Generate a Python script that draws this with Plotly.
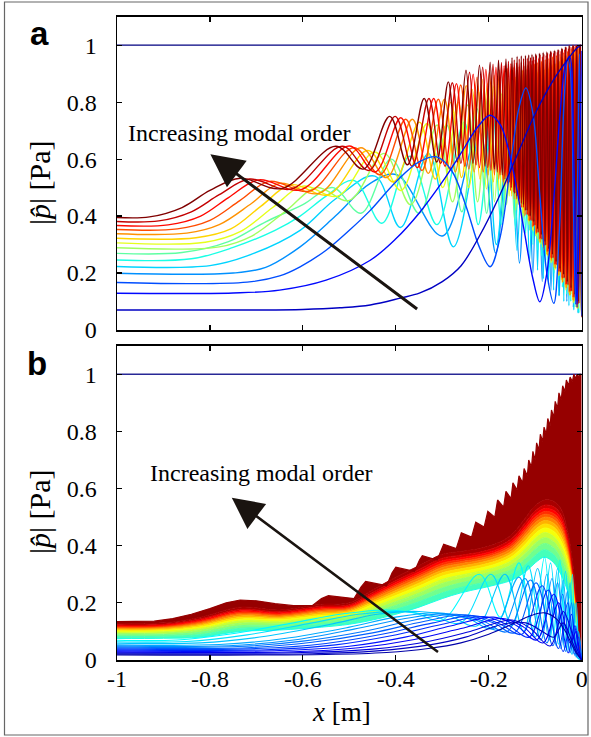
import plotly.graph_objects as go

W, H = 591, 737

# ---------------- axes / labels ----------------
x_ticks = [-1, -0.8, -0.6, -0.4, -0.2, 0]
x_tick_text = ["-1", "-0.8", "-0.6", "-0.4", "-0.2", "0"]
y_ticks = [0, 0.2, 0.4, 0.6, 0.8, 1]
y_tick_text = ["0", "0.2", "0.4", "0.6", "0.8", "1"]
label_a = "a"
label_b = "b"
y_title = "|<i>p̂</i>| [Pa]"
x_title = "<i>x</i> [m]"
text_arrow = "Increasing modal order"

# ---------------- panel a: |p| of each mode ((x, |p|) points) ----------------
flat_x = [-1, 0]
flat_y = [1, 1]

a01 = [(-1, .070), (-0.7, .070), (-0.6, .072), (-0.52, .078), (-0.455, .088), (-0.39, .112), (-0.348, .130),
       (-0.3, .170), (-0.26, .225), (-0.22, .33), (-0.18, .46), (-0.14, .61), (-0.1, .76), (-0.06, .88),
       (-0.03, .95), (-0.01, .99), (0, 1.0)]
a02 = [(-1, .129), (-0.75, .130), (-0.65, .140), (-0.55, .175), (-0.455, .245), (-0.40, .32), (-0.35, .41),
       (-0.30, .52), (-0.26, .62), (-0.225, .71), (-0.197, .754), (-0.175, .72), (-0.15, .58), (-0.125, .36),
       (-0.105, .18), (-0.09, .099), (-0.075, .20), (-0.06, .46), (-0.047, .75), (-0.035, .93), (-0.026, .96),
       (-0.017, .60), (-0.01, .08), (-0.005, .50), (0, .98)]
a03 = [(-1, .167), (-0.72, .168), (-0.65, .19), (-0.606, .222), (-0.55, .28), (-0.50, .35), (-0.455, .42),
       (-0.40, .52), (-0.35, .59), (-0.312, .608), (-0.28, .56), (-0.25, .44), (-0.22, .29), (-0.197, .222),
       (-0.175, .33), (-0.15, .62), (-0.135, .78), (-0.12, .85), (-0.105, .76), (-0.09, .47), (-0.075, .20),
       (-0.06, .094), (-0.048, .35), (-0.038, .80), (-0.03, .95), (-0.024, .90), (-0.018, .45), (-0.013, .09),
       (-0.009, .50), (-0.005, .97), (0, .05)]
a04 = [(-1, .199), (-0.75, .20), (-0.68, .22), (-0.606, .292), (-0.53, .40), (-0.455, .515), (-0.398, .545),
       (-0.30, .33), (-0.222, .70), (-0.185, .27), (-0.154, .78), (-0.134, .235), (-0.118, .82), (-0.105, .20),
       (-0.095, .84), (-0.085, .17), (-0.076, .86), (-0.066, .14), (-0.057, .88), (-0.048, .12), (-0.04, .90),
       (-0.032, .10), (-0.025, .93), (-0.018, .08), (-0.012, .95), (-0.007, .06), (-0.003, .97), (0, .05)]
a05 = [(-1, .223), (-0.80, .226), (-0.72, .26), (-0.606, .35), (-0.53, .46), (-0.445, .54), (-0.39, .36),
       (-0.33, .62), (-0.276, .292), (-0.211, .74), (-0.1835, .30), (-0.1555, .79), (-0.1393, .28), (-0.123, .82),
       (-0.1124, .24), (-0.1017, .84), (-0.095, .21), (-0.088, .85), (-0.0825, .18), (-0.077, .86),
       (-0.0715, .16), (-0.066, .87), (-0.0605, .14), (-0.055, .885), (-0.0495, .12), (-0.044, .90),
       (-0.0385, .10), (-0.033, .92), (-0.0275, .085), (-0.022, .94), (-0.017, .07), (-0.012, .96),
       (-0.008, .06), (-0.004, .97), (0, .05)]
a06 = [(-1, .246), (-0.84, .25), (-0.75, .29), (-0.66, .35), (-0.606, .40), (-0.55, .47), (-0.49, .525),
       (-0.43, .375), (-0.37, .61), (-0.3115, .37), (-0.253, .73), (-0.2226, .37), (-0.1922, .77), (-0.1736, .37),
       (-0.155, .795), (-0.1424, .36), (-0.1298, .81), (-0.1207, .34), (-0.1117, .825), (-0.1048, .30),
       (-0.098, .83), (-0.0945, .28), (-0.091, .835), (-0.0865, .26), (-0.082, .84), (-0.0775, .245),
       (-0.073, .85), (-0.0685, .22), (-0.064, .86), (-0.0595, .20), (-0.055, .875), (-0.0505, .175),
       (-0.046, .89), (-0.0415, .15), (-0.037, .91), (-0.0325, .125), (-0.028, .93), (-0.0235, .10),
       (-0.019, .95), (-0.0145, .08), (-0.01, .97), (-0.006, .06), (-0.003, .98), (0, .05)]
a07 = [(-1, .269), (-0.86, .272), (-0.76, .31), (-0.68, .38), (-0.60, .44), (-0.535, .50), (-0.475, .41),
       (-0.41, .60), (-0.35, .41), (-0.2908, .72), (-0.258, .415), (-0.2253, .777), (-0.2046, .41),
       (-0.1839, .805), (-0.1696, .40), (-0.1553, .814), (-0.1449, .39), (-0.1344, .83), (-0.1265, .37),
       (-0.1185, .835), (-0.1122, .35), (-0.1059, .838), (-0.099, .33), (-0.092, .84), (-0.088, .30),
       (-0.084, .845), (-0.080, .275), (-0.076, .85), (-0.072, .255), (-0.068, .855), (-0.064, .235),
       (-0.060, .86), (-0.056, .215), (-0.052, .87), (-0.048, .19), (-0.044, .88), (-0.040, .17),
       (-0.036, .895), (-0.032, .15), (-0.028, .91), (-0.024, .125), (-0.020, .93), (-0.016, .10),
       (-0.012, .95), (-0.008, .075), (-0.004, .965), (0, .05)]
a08 = [(-1, .289), (-0.78, .292), (-0.71, .33), (-0.635, .42), (-0.57, .50), (-0.50, .455), (-0.425, .62),
       (-0.368, .44), (-0.311, .72), (-0.278, .45), (-0.2455, .79), (-0.224, .45), (-0.2027, .815),
       (-0.1876, .45), (-0.1726, .83), (-0.1615, .44), (-0.1503, .836), (-0.1417, .42), (-0.1331, .84),
       (-0.1262, .395), (-0.1194, .845), (-0.1138, .37), (-0.1083, .85), (-0.1037, .345), (-0.0991, .852),
       (-0.0955, .32), (-0.0915, .855), (-0.0875, .30), (-0.0835, .86), (-0.0795, .28), (-0.0755, .865),
       (-0.0715, .26), (-0.0675, .87), (-0.0635, .24), (-0.0595, .88), (-0.0555, .215), (-0.0515, .89),
       (-0.0475, .195), (-0.0435, .90), (-0.0395, .17), (-0.0355, .915), (-0.0315, .15), (-0.0275, .93),
       (-0.0235, .125), (-0.0195, .95), (-0.0155, .10), (-0.0115, .965), (-0.0075, .075), (-0.0035, .98),
       (0, .05)]
a09 = [(-1, .306), (-0.81, .308), (-0.735, .345), (-0.665, .43), (-0.60, .505), (-0.525, .47), (-0.445, .625),
       (-0.389, .49), (-0.3326, .725), (-0.299, .50), (-0.2655, .80), (-0.2432, .50), (-0.2209, .835),
       (-0.205, .495), (-0.1891, .855), (-0.177, .49), (-0.1654, .861), (-0.156, .47), (-0.1469, .867),
       (-0.1395, .445), (-0.1322, .871), (-0.126, .41), (-0.1201, .875), (-0.115, .38), (-0.11, .878),
       (-0.1058, .35), (-0.1016, .88), (-0.098, .33), (-0.094, .885), (-0.090, .305), (-0.086, .89),
       (-0.082, .28), (-0.078, .895), (-0.074, .26), (-0.070, .90), (-0.066, .235), (-0.062, .91),
       (-0.058, .21), (-0.054, .92), (-0.050, .19), (-0.046, .93), (-0.042, .165), (-0.038, .94),
       (-0.034, .14), (-0.030, .95), (-0.026, .12), (-0.022, .965), (-0.018, .095), (-0.014, .975),
       (-0.010, .075), (-0.006, .985), (0, .05)]
a10 = [(-1, .322), (-0.83, .324), (-0.755, .355), (-0.69, .435), (-0.625, .51), (-0.545, .475), (-0.46, .63),
       (-0.405, .52), (-0.349, .73), (-0.315, .53), (-0.2814, .80), (-0.2585, .535), (-0.2356, .845),
       (-0.219, .53), (-0.2027, .865), (-0.19, .52), (-0.1778, .873), (-0.168, .50), (-0.1584, .883),
       (-0.1506, .47), (-0.1428, .888), (-0.1364, .44), (-0.13, .892), (-0.1246, .41), (-0.1193, .895),
       (-0.1147, .385), (-0.1102, .898), (-0.1063, .36), (-0.1024, .90), (-0.0985, .335), (-0.0955, .905),
       (-0.0915, .31), (-0.0875, .91), (-0.0835, .29), (-0.0795, .915), (-0.0755, .265), (-0.0715, .92),
       (-0.0675, .245), (-0.0635, .93), (-0.0595, .22), (-0.0555, .935), (-0.0515, .20), (-0.0475, .945),
       (-0.0435, .175), (-0.0395, .955), (-0.0355, .15), (-0.0315, .965), (-0.0275, .13), (-0.0235, .975),
       (-0.0195, .105), (-0.0155, .985), (-0.0115, .08), (-0.0075, .99), (0, .05)]
a11 = [(-1, .338), (-0.85, .34), (-0.78, .37), (-0.71, .445), (-0.65, .515), (-0.565, .48), (-0.475, .64),
       (-0.42, .535), (-0.3643, .74), (-0.33, .55), (-0.2954, .81), (-0.2719, .555), (-0.2484, .858),
       (-0.2314, .555), (-0.2144, .88), (-0.2015, .545), (-0.1885, .894), (-0.1784, .53), (-0.1682, .90),
       (-0.16, .50), (-0.1519, .905), (-0.1452, .46), (-0.1384, .91), (-0.1328, .43), (-0.1271, .912),
       (-0.1224, .40), (-0.1176, .915), (-0.1135, .385), (-0.1094, .917), (-0.1058, .362), (-0.1022, .92),
       (-0.098, .337), (-0.093, .925), (-0.089, .307), (-0.085, .93), (-0.081, .287), (-0.077, .935),
       (-0.073, .262), (-0.069, .94), (-0.065, .242), (-0.061, .945), (-0.057, .217), (-0.053, .95),
       (-0.049, .192), (-0.045, .96), (-0.041, .167), (-0.037, .965), (-0.033, .147), (-0.029, .975),
       (-0.025, .122), (-0.021, .985), (-0.017, .102), (-0.013, .99), (-0.009, .077), (-0.005, 1.0), (0, .05)]
a12 = [(-1, .353), (-0.87, .355), (-0.80, .385), (-0.735, .455), (-0.672, .522), (-0.585, .488), (-0.49, .64),
       (-0.434, .545), (-0.3786, .74), (-0.3436, .56), (-0.3085, .81), (-0.2844, .565), (-0.2603, .86),
       (-0.2428, .565), (-0.2252, .888), (-0.2118, .555), (-0.1984, .905), (-0.1878, .545), (-0.1773, .913),
       (-0.1688, .52), (-0.1602, .918), (-0.1532, .49), (-0.1462, .922), (-0.1403, .46), (-0.1344, .925),
       (-0.1294, .43), (-0.1244, .928), (-0.12, .405), (-0.1157, .93), (-0.112, .383), (-0.1082, .932),
       (-0.1049, .364), (-0.1016, .935), (-0.098, .344), (-0.0945, .94), (-0.0905, .319), (-0.0865, .945),
       (-0.0825, .299), (-0.0785, .95), (-0.0745, .274), (-0.0705, .955), (-0.0665, .254), (-0.0625, .96),
       (-0.0585, .229), (-0.0545, .965), (-0.0505, .204), (-0.0465, .97), (-0.0425, .184), (-0.0385, .975),
       (-0.0345, .159), (-0.0305, .98), (-0.0265, .134), (-0.0225, .99), (-0.0185, .114), (-0.0145, .995),
       (-0.0105, .089), (-0.0065, 1.0), (0, .05)]
a13 = [(-1, .367), (-0.89, .369), (-0.82, .40), (-0.76, .465), (-0.695, .527), (-0.605, .492), (-0.50, .646),
       (-0.4445, .555), (-0.3891, .745), (-0.3538, .57), (-0.3185, .813), (-0.294, .575), (-0.2695, .865),
       (-0.2515, .575), (-0.2336, .898), (-0.22, .57), (-0.2062, .915), (-0.1953, .56), (-0.1845, .923),
       (-0.1757, .545), (-0.1669, .928), (-0.1596, .515), (-0.1524, .935), (-0.1463, .485), (-0.1403, .938),
       (-0.1351, .455), (-0.1299, .94), (-0.1254, .43), (-0.1209, .943), (-0.117, .405), (-0.1131, .945),
       (-0.1097, .386), (-0.1063, .947), (-0.1032, .366), (-0.1002, .95), (-0.0965, .341), (-0.0925, .955),
       (-0.0885, .321), (-0.0845, .96), (-0.0805, .296), (-0.0765, .965), (-0.0725, .276), (-0.0685, .97),
       (-0.0645, .251), (-0.0605, .973), (-0.0565, .231), (-0.0525, .977), (-0.0485, .206), (-0.0445, .98),
       (-0.0405, .181), (-0.0365, .985), (-0.0325, .161), (-0.0285, .99), (-0.0245, .136), (-0.0205, .995),
       (-0.0165, .116), (-0.0125, 1.0), (-0.0085, .091), (-0.0045, 1.0), (0, .05)]
a14 = [(-1, .381), (-0.91, .383), (-0.84, .415), (-0.78, .475), (-0.715, .53), (-0.625, .495), (-0.515, .645),
       (-0.458, .56), (-0.4013, .75), (-0.365, .575), (-0.3287, .813), (-0.3035, .585), (-0.2784, .868),
       (-0.2599, .585), (-0.2414, .905), (-0.2272, .58), (-0.2131, .923), (-0.202, .57), (-0.1908, .933),
       (-0.1817, .555), (-0.1727, .939), (-0.1652, .53), (-0.1577, .944), (-0.1514, .50), (-0.1451, .948),
       (-0.1397, .47), (-0.1344, .951), (-0.1297, .445), (-0.1251, .953), (-0.1211, .42), (-0.1171, .955),
       (-0.1135, .40), (-0.11, .957), (-0.1068, .383), (-0.1037, .96), (-0.1005, .368), (-0.0975, .965),
       (-0.0935, .343), (-0.0895, .968), (-0.0855, .318), (-0.0815, .97), (-0.0775, .298), (-0.0735, .973),
       (-0.0695, .273), (-0.0655, .976), (-0.0615, .253), (-0.0575, .98), (-0.0535, .228), (-0.0495, .984),
       (-0.0455, .203), (-0.0415, .988), (-0.0375, .183), (-0.0335, .993), (-0.0295, .158), (-0.0255, .997),
       (-0.0215, .136), (-0.0175, 1.0), (-0.0135, .113), (-0.0095, 1.0), (-0.006, .093), (-0.0025, 1.0),
       (0, .05)]
a15 = [(-1, .395), (-0.93, .397), (-0.86, .43), (-0.80, .49), (-0.735, .533), (-0.645, .497), (-0.529, .645),
       (-0.47, .565), (-0.413, .75), (-0.375, .58), (-0.339, .813), (-0.312, .59), (-0.287, .871),
       (-0.268, .59), (-0.249, .912), (-0.234, .585), (-0.220, .93), (-0.208, .575), (-0.197, .94),
       (-0.188, .565), (-0.179, .947), (-0.171, .545), (-0.163, .952), (-0.156, .52), (-0.150, .956),
       (-0.144, .48), (-0.139, .96), (-0.1345, .46), (-0.130, .962), (-0.1255, .44), (-0.121, .964),
       (-0.1175, .42), (-0.114, .966), (-0.1105, .40), (-0.107, .968), (-0.103, .38), (-0.099, .97),
       (-0.095, .355), (-0.091, .972), (-0.087, .335), (-0.083, .975), (-0.079, .31), (-0.075, .977),
       (-0.071, .285), (-0.067, .98), (-0.063, .265), (-0.059, .982), (-0.055, .24), (-0.051, .985),
       (-0.047, .215), (-0.043, .99), (-0.039, .195), (-0.035, .995), (-0.031, .17), (-0.027, 1.0),
       (-0.023, .148), (-0.019, 1.0), (-0.015, .125), (-0.011, 1.0), (-0.0075, .10), (-0.004, 1.0),
       (0, .045)]
panel_a_modes = [a01, a02, a03, a04, a05, a06, a07, a08, a09, a10, a11, a12, a13, a14, a15]
# drawing order (index into panel_a_modes): mid and high orders first, the three lowest on top
panel_a_order = [3, 4, 5, 6, 7, 8, 9, 10, 11, 12, 13, 14, 2, 1, 0]

# ---------------- panel b ----------------
# low-order modes (blue lines), (x, |p|) points
b01 = [(-1, .018), (-0.55, .019), (-0.42, .026), (-0.33, .04), (-0.26, .06), (-0.2, .09), (-0.15, .125),
       (-0.11, .155), (-0.08, .165), (-0.055, .145), (-0.035, .10), (-0.02, .05), (-0.01, .02), (0, 0)]
b01b = [(-1, .0215), (-0.58, .022), (-0.44, .032), (-0.33, .052), (-0.25, .08), (-0.17, .125), (-0.12, .13),
        (-0.085, .10), (-0.06, .08), (-0.04, .13), (-0.022, .07), (-0.01, .025), (0, 0)]
b02 = [(-1, .025), (-0.6, .026), (-0.45, .038), (-0.33, .065), (-0.24, .10), (-0.15, .14), (-0.11, .11),
       (-0.068, .049), (-0.04, .17), (-0.02, .09), (-0.008, .03), (0, 0)]
b02b = [(-1, .0285), (-0.62, .029), (-0.48, .043), (-0.36, .072), (-0.26, .11), (-0.17, .145), (-0.125, .115),
        (-0.083, .06), (-0.05, .20), (-0.025, .06), (-0.012, .10), (-0.005, .03), (0, 0)]
b03 = [(-1, .032), (-0.65, .033), (-0.5, .048), (-0.38, .08), (-0.28, .12), (-0.19, .15), (-0.14, .12),
       (-0.097, .07), (-0.06, .23), (-0.029, .025), (-0.016, .12), (-0.007, .04), (0, 0)]
b03b = [(-1, .0355), (-0.68, .036), (-0.53, .053), (-0.41, .085), (-0.30, .125), (-0.21, .152), (-0.157, .12),
        (-0.113, .08), (-0.072, .245), (-0.04, .03), (-0.022, .16), (-0.011, .03), (0, 0)]
b04 = [(-1, .039), (-0.7, .04), (-0.55, .058), (-0.43, .09), (-0.32, .13), (-0.23, .155), (-0.175, .125),
       (-0.129, .09), (-0.085, .26), (-0.05, .04), (-0.03, .20), (-0.015, .02), (-0.007, .08), (0, 0)]
b04b = [(-1, .0425), (-0.72, .043), (-0.58, .062), (-0.45, .095), (-0.34, .135), (-0.25, .158), (-0.19, .13),
        (-0.145, .095), (-0.098, .27), (-0.062, .05), (-0.041, .23), (-0.025, .025), (-0.013, .12),
        (-0.006, .02), (0, 0)]
b05 = [(-1, .046), (-0.74, .047), (-0.6, .066), (-0.47, .10), (-0.36, .14), (-0.27, .16), (-0.21, .135),
       (-0.161, .099), (-0.11, .28), (-0.075, .06), (-0.052, .27), (-0.035, .03), (-0.022, .2), (-0.012, .01),
       (-0.006, .06), (0, 0)]
b05b = [(-1, .0495), (-0.76, .05), (-0.62, .07), (-0.49, .108), (-0.38, .145), (-0.29, .162), (-0.228, .14),
        (-0.175, .105), (-0.122, .285), (-0.088, .07), (-0.064, .285), (-0.045, .04), (-0.031, .24),
        (-0.019, .02), (-0.009, .1), (0, 0)]
b06 = [(-1, .053), (-0.78, .054), (-0.64, .075), (-0.5, .115), (-0.4, .15), (-0.31, .165), (-0.245, .145),
       (-0.19, .11), (-0.135, .29), (-0.1, .08), (-0.075, .30), (-0.055, .05), (-0.04, .28), (-0.027, .03),
       (-0.017, .2), (-0.009, .01), (0, 0)]
b07 = [(-1, .059), (-0.82, .06), (-0.68, .083), (-0.54, .125), (-0.44, .16), (-0.35, .17), (-0.285, .155),
       (-0.225, .12), (-0.165, .30), (-0.125, .10), (-0.095, .32), (-0.07, .07), (-0.052, .32), (-0.037, .04),
       (-0.025, .27), (-0.015, .015), (-0.007, .1), (0, 0)]
b08 = [(-1, .064), (-0.85, .065), (-0.72, .088), (-0.58, .13), (-0.48, .16), (-0.39, .17), (-0.32, .155),
       (-0.26, .13), (-0.195, .30), (-0.15, .12), (-0.115, .33), (-0.088, .09), (-0.067, .34), (-0.05, .055),
       (-0.035, .31), (-0.022, .02), (-0.012, .2), (-0.005, .02), (0, 0)]
b09 = [(-1, .069), (-0.87, .07), (-0.76, .09), (-0.62, .13), (-0.52, .16), (-0.42, .175), (-0.36, .165),
       (-0.3, .14), (-0.22, .30), (-0.175, .15), (-0.135, .34), (-0.105, .11), (-0.08, .36), (-0.062, .07),
       (-0.047, .35), (-0.032, .03), (-0.02, .3), (-0.01, .01), (0, 0)]
panel_b_low = [b01, b01b, b02, b02b, b03, b03b, b04, b04b, b05, b05b, b06, b07, b08, b09]

# higher-order modes: dense coloured band, read at common x positions
xs_b = [-1, -0.9, -0.82, -0.735, -0.65, -0.56, -0.5, -0.45, -0.4, -0.35, -0.3, -0.26, -0.22, -0.18, -0.15,
        -0.12, -0.1, -0.08, -0.06, -0.045, -0.03, -0.018, -0.008, -0.003, 0]
b10 = [.075, .076, .080, .100, .105, .115, .125, .140, .160, .185, .215, .235, .250, .265, .280, .310, .340, .360, .340, .300, .240, .170, .090, .030, 0]
b11 = [.082, .083, .089, .111, .114, .125, .135, .154, .177, .204, .235, .254, .268, .284, .301, .335, .366, .386, .368, .330, .267, .190, .098, .030, 0]
b12 = [.088, .089, .097, .120, .122, .134, .143, .165, .191, .220, .252, .270, .284, .300, .318, .356, .388, .408, .392, .355, .290, .206, .104, .030, 0]
b13 = [.093, .094, .104, .129, .129, .142, .151, .176, .204, .234, .268, .284, .298, .314, .334, .375, .408, .428, .413, .378, .311, .221, .110, .030, 0]
b14 = [.098, .099, .110, .137, .135, .149, .157, .185, .216, .247, .282, .297, .310, .327, .349, .392, .426, .446, .432, .399, .330, .235, .116, .030, 0]
b15 = [.102, .104, .116, .143, .141, .156, .163, .194, .226, .259, .294, .309, .321, .339, .362, .407, .442, .462, .450, .417, .347, .247, .121, .030, 0]
b16 = [.106, .107, .121, .149, .146, .161, .169, .201, .235, .269, .305, .319, .331, .349, .373, .420, .456, .476, .465, .433, .362, .257, .125, .030, 0]
b17 = [.109, .111, .125, .154, .150, .166, .173, .207, .243, .278, .314, .328, .340, .358, .382, .432, .468, .488, .478, .447, .374, .266, .128, .030, 0]
b18 = [.112, .114, .129, .160, .154, .171, .178, .214, .251, .287, .324, .337, .348, .367, .392, .443, .480, .500, .491, .461, .387, .275, .132, .030, 0]
b19 = [.115, .117, .133, .164, .158, .175, .181, .219, .258, .294, .331, .344, .355, .374, .400, .453, .490, .510, .501, .473, .398, .283, .135, .030, 0]
b20 = [.117, .119, .136, .168, .161, .179, .185, .224, .264, .301, .339, .351, .362, .381, .408, .462, .500, .520, .512, .484, .408, .290, .138, .030, 0]
b21 = [.120, .122, .140, .172, .165, .183, .189, .229, .271, .308, .347, .358, .369, .388, .416, .472, .510, .530, .523, .496, .419, .298, .141, .030, 0]
b22 = [.123, .125, .144, .177, .169, .188, .193, .236, .278, .317, .356, .367, .377, .397, .426, .483, .522, .542, .536, .509, .431, .307, .145, .030, 0]
b23 = [.128, .130, .150, .185, .175, .195, .200, .245, .290, .330, .370, .380, .390, .410, .440, .500, .540, .560, .555, .530, .450, .320, .150, .030, 0]
panel_b_band = [b10, b11, b12, b13, b14, b15, b16, b17, b18, b19, b20, b21, b22, b23]

# highest-order mode: staircase top edge
b24 = [(-1, .134), (-0.92, .136), (-0.88, .145), (-0.84, .16), (-0.80, .18), (-0.765, .20), (-0.735, .21),
       (-0.70, .207), (-0.66, .197), (-0.62, .19), (-0.58, .19), (-0.56, .215), (-0.545, .225), (-0.49, .215),
       (-0.475, .255), (-0.465, .275), (-0.42, .26), (-0.408, .305), (-0.40, .325), (-0.36, .31),
       (-0.349, .35), (-0.343, .365), (-0.311, .35), (-0.302, .39), (-0.297, .405), (-0.27, .39),
       (-0.263, .43), (-0.259, .445), (-0.237, .43), (-0.228, .482), (-0.21, .465), (-0.202, .52), (-0.187, .50),
       (-0.181, .56), (-0.168, .535), (-0.163, .59), (-0.152, .565), (-0.148, .62), (-0.139, .595),
       (-0.135, .645), (-0.127, .62), (-0.124, .67), (-0.117, .645), (-0.114, .70), (-0.108, .675),
       (-0.105, .73), (-0.1, .70), (-0.097, .76), (-0.092, .735), (-0.089, .79), (-0.084, .765),
       (-0.081, .815), (-0.076, .79), (-0.073, .845), (-0.068, .82), (-0.065, .875), (-0.06, .85),
       (-0.057, .905), (-0.052, .88), (-0.049, .935), (-0.044, .91), (-0.041, .96), (-0.036, .94),
       (-0.033, .98), (-0.028, .96), (-0.025, .99), (-0.02, .975), (-0.017, 1.0), (-0.013, .985),
       (-0.01, 1.0), (-0.006, .99), (-0.004, 1.0), (0, 1.0)]

arrow_a = dict(tip=(-0.799, 0.617), tail=(-0.351, 0.070), text_at=(-0.736, 0.693))
arrow_b = dict(tip=(-0.753, 0.568), tail=(-0.306, 0.024), text_at=(-0.69, 0.653))


# ---------------- styling helpers ----------------
def jet(t):
    r = min(max(1.5 - abs(4 * t - 3), 0), 1)
    g = min(max(1.5 - abs(4 * t - 2), 0), 1)
    b = min(max(1.5 - abs(4 * t - 1), 0), 1)
    return "rgb(%d,%d,%d)" % (round(r * 255), round(g * 255), round(b * 255))


fig = go.Figure()


def add_pts(pts, color, xa, ya, width, shape="spline", fill=None):
    fig.add_trace(go.Scatter(x=[p[0] for p in pts], y=[p[1] for p in pts], mode="lines",
                             xaxis=xa, yaxis=ya, line=dict(color=color, width=width, shape=shape),
                             fill=fill, fillcolor=color if fill else None,
                             showlegend=False, hoverinfo="skip"))


# panel a
fig.add_trace(go.Scatter(x=flat_x, y=flat_y, mode="lines", xaxis="x", yaxis="y",
                         line=dict(color=jet(0), width=1.3), showlegend=False, hoverinfo="skip"))
n_a = len(panel_a_modes)
for i in panel_a_order:
    add_pts(panel_a_modes[i], jet((i + 1) / n_a), "x", "y", 1.4)

# panel b
fig.add_trace(go.Scatter(x=flat_x, y=flat_y, mode="lines", xaxis="x2", yaxis="y2",
                         line=dict(color="rgb(40,40,150)", width=1.3), showlegend=False, hoverinfo="skip"))
n_band = len(panel_b_band)
for j, ys in enumerate(panel_b_band):
    col = jet(0.40 + 0.56 * j / (n_band - 1))
    fig.add_trace(go.Scatter(x=xs_b, y=ys, mode="lines", xaxis="x2", yaxis="y2",
                             line=dict(color=col, width=1, shape="spline"),
                             fill=None if j == 0 else "tonexty", fillcolor=col,
                             showlegend=False, hoverinfo="skip"))
add_pts(b24, "rgb(150,0,0)", "x2", "y2", 1.2, shape="linear", fill="tonexty")
n_low = len(panel_b_low)
for i in range(n_low - 1, -1, -1):
    add_pts(panel_b_low[i], jet(0.04 + 0.33 * i / (n_low - 1)), "x2", "y2", 1.1)


# ---------------- layout ----------------
def PX(px):
    return px / W


def PY(py):
    return 1 - py / H


x0, x1 = PX(117), PX(581.7)
ya_dom = [PY(330), PY(16.7)]
yb_dom = [PY(660), PY(345.7)]

serif = "Liberation Serif, Times New Roman, serif"
font_tick = dict(family=serif, size=24, color="black")
common = dict(showgrid=False, zeroline=False, showline=True, linecolor="black", linewidth=1.5,
              mirror="ticks", ticks="inside", ticklen=5, tickwidth=1.2, tickcolor="black",
              automargin=False, fixedrange=True)

fig.update_layout(
    width=W, height=H, margin=dict(l=0, r=0, t=0, b=0),
    paper_bgcolor="white", plot_bgcolor="white",
    xaxis=dict(domain=[x0, x1], anchor="y", range=[-1, 0], tickvals=x_ticks, showticklabels=False, **common),
    yaxis=dict(domain=ya_dom, anchor="x", range=[0, 1.1], tickvals=y_ticks, ticktext=y_tick_text,
               tickfont=font_tick, ticklabelstandoff=14, **common),
    xaxis2=dict(domain=[x0, x1], anchor="y2", range=[-1, 0], tickvals=x_ticks, ticktext=x_tick_text,
                tickfont=font_tick, ticklabelstandoff=-3, **common),
    yaxis2=dict(domain=yb_dom, anchor="x2", range=[0, 1.1], tickvals=y_ticks, ticktext=y_tick_text,
                tickfont=font_tick, ticklabelstandoff=14, **common),
    shapes=[dict(type="rect", xref="paper", yref="paper", x0=PX(4.5), x1=PX(588), y0=PY(735), y1=PY(2),
                 line=dict(color="#666", width=1.2), fillcolor="rgba(0,0,0,0)")],
)

ann = []
ann.append(dict(text="<b>%s</b>" % label_a, x=PX(39), y=PY(33), xref="paper", yref="paper", showarrow=False,
                xanchor="center", yanchor="middle",
                font=dict(family="Liberation Sans, Arial", size=33, color="black")))
ann.append(dict(text="<b>%s</b>" % label_b, x=PX(37), y=PY(363), xref="paper", yref="paper", showarrow=False,
                xanchor="center", yanchor="middle",
                font=dict(family="Liberation Sans, Arial", size=33, color="black")))
for yc in (PY(183), PY(512)):
    ann.append(dict(text=y_title, x=PX(40), y=yc, xref="paper", yref="paper", showarrow=False, textangle=-90,
                    xanchor="center", yanchor="middle", font=dict(family=serif, size=30, color="black")))
ann.append(dict(text=x_title, x=PX(341), y=PY(712), xref="paper", yref="paper", showarrow=False,
                xanchor="center", yanchor="middle", font=dict(family=serif, size=27, color="black")))
for arr, xr, yr in ((arrow_a, "x", "y"), (arrow_b, "x2", "y2")):
    ann.append(dict(text=text_arrow, x=arr["text_at"][0], y=arr["text_at"][1], xref=xr, yref=yr,
                    showarrow=False, xanchor="center", yanchor="middle",
                    font=dict(family=serif, size=24, color="black")))
    ann.append(dict(x=arr["tip"][0], y=arr["tip"][1], ax=arr["tail"][0], ay=arr["tail"][1],
                    xref=xr, yref=yr, axref=xr, ayref=yr, showarrow=True, arrowhead=2,
                    arrowsize=2.2 if xr == "x" else 2.4, arrowwidth=3 if xr == "x" else 2.6,
                    arrowcolor="#1a1410", text=""))
fig.update_layout(annotations=ann)

fig.write_html("out.html", config={"displayModeBar": False, "staticPlot": True},
               post_script="document.body.style.margin='0';document.body.style.overflow='hidden';")
